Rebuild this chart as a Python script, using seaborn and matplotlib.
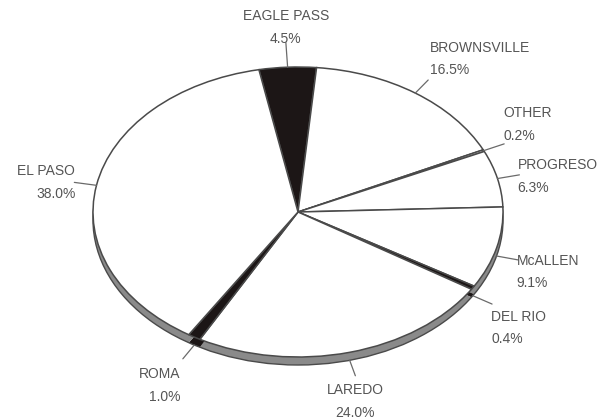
import numpy as np
import matplotlib
matplotlib.use("Agg")
import matplotlib.pyplot as plt
import seaborn as sns

# ---- data ----
categories = ["EAGLE PASS", "BROWNSVILLE", "OTHER", "PROGRESO", "McALLEN",
              "DEL RIO", "LAREDO", "ROMA", "EL PASO"]
shares = [4.5, 16.5, 0.2, 6.3, 9.1, 0.4, 24.0, 1.0, 38.0]
pct_labels = ["4.5%", "16.5%", "0.2%", "6.3%", "9.1%", "0.4%", "24.0%", "1.0%", "38.0%"]
dark_slices = ["EAGLE PASS", "DEL RIO", "ROMA"]

# ---- layout / style (not data) ----
# (horizontal alignment, dx px, dy px downwards) of each label relative to its leader end
label_layout = [("center", 0, -15), ("left", 2, -21), ("left", -1, -19),
                ("left", -2, 2), ("left", -2, 12), ("left", -1, 24),
                ("center", 0, 26), ("right", -2, 27), ("right", 1, 0)]

sns.set_theme(style="white")
plt.rcParams["font.family"] = ["Liberation Sans", "DejaVu Sans"]

W, H = 616, 419
cx, cy = 298, 212          # pie centre in pixels
a, b = 205, 145            # semi axes in pixels (perspective squash)
depth = 8 / b              # visible thickness of the disc

fig = plt.figure(figsize=(W / 100, H / 100), dpi=100)
ax = fig.add_axes([0, 0, 1, 1])

face = ["#1c1616" if c in dark_slices else "white" for c in categories]
side = ["#1c1616" if c in dark_slices else "#8a8a8a" for c in categories]

start = 101
# disc side (thickness)
ax.pie(shares, startangle=start, counterclock=False, center=(0, -depth),
       colors=side, wedgeprops=dict(linewidth=0, edgecolor="none"), frame=True)
ax.add_patch(plt.Circle((0, -depth), 1, fill=False, ec="#4a4a4a", lw=1.0, zorder=1.5))
# top face
wedges, _ = ax.pie(shares, startangle=start, counterclock=False, center=(0, 0),
                   colors=face,
                   wedgeprops=dict(linewidth=1.1, edgecolor="#4a4a4a"), frame=True)
for w in wedges:
    w.set_zorder(2)

ax.set_aspect("auto")
ax.set_xlim(-cx / a, (W - cx) / a)
ax.set_ylim(-(H - cy) / b, cy / b)
ax.axis("off")

# labels with leader lines at the wedge mid angles
for w, name, pct, (ha, dx, dy) in zip(wedges, categories, pct_labels, label_layout):
    mid = np.deg2rad((w.theta1 + w.theta2) / 2)
    ux, uy = np.cos(mid), np.sin(mid)
    sx, sy = ux, uy - (depth if uy < 0 else 0)
    ext = 0.17 if name == "EAGLE PASS" else 0.11
    ex, ey = sx + ext * ux, sy + ext * uy
    ax.plot([sx, ex], [sy, ey], color="#6a6a6a", lw=0.9, zorder=3)
    ax.annotate(f"{name}\n{pct}", xy=(ex, ey), xytext=(dx, -dy),
                textcoords="offset pixels", ha=ha, va="center",
                multialignment=ha, fontsize=10, color="#555555",
                linespacing=1.8, zorder=4)

fig.savefig("out.png", dpi=100)
